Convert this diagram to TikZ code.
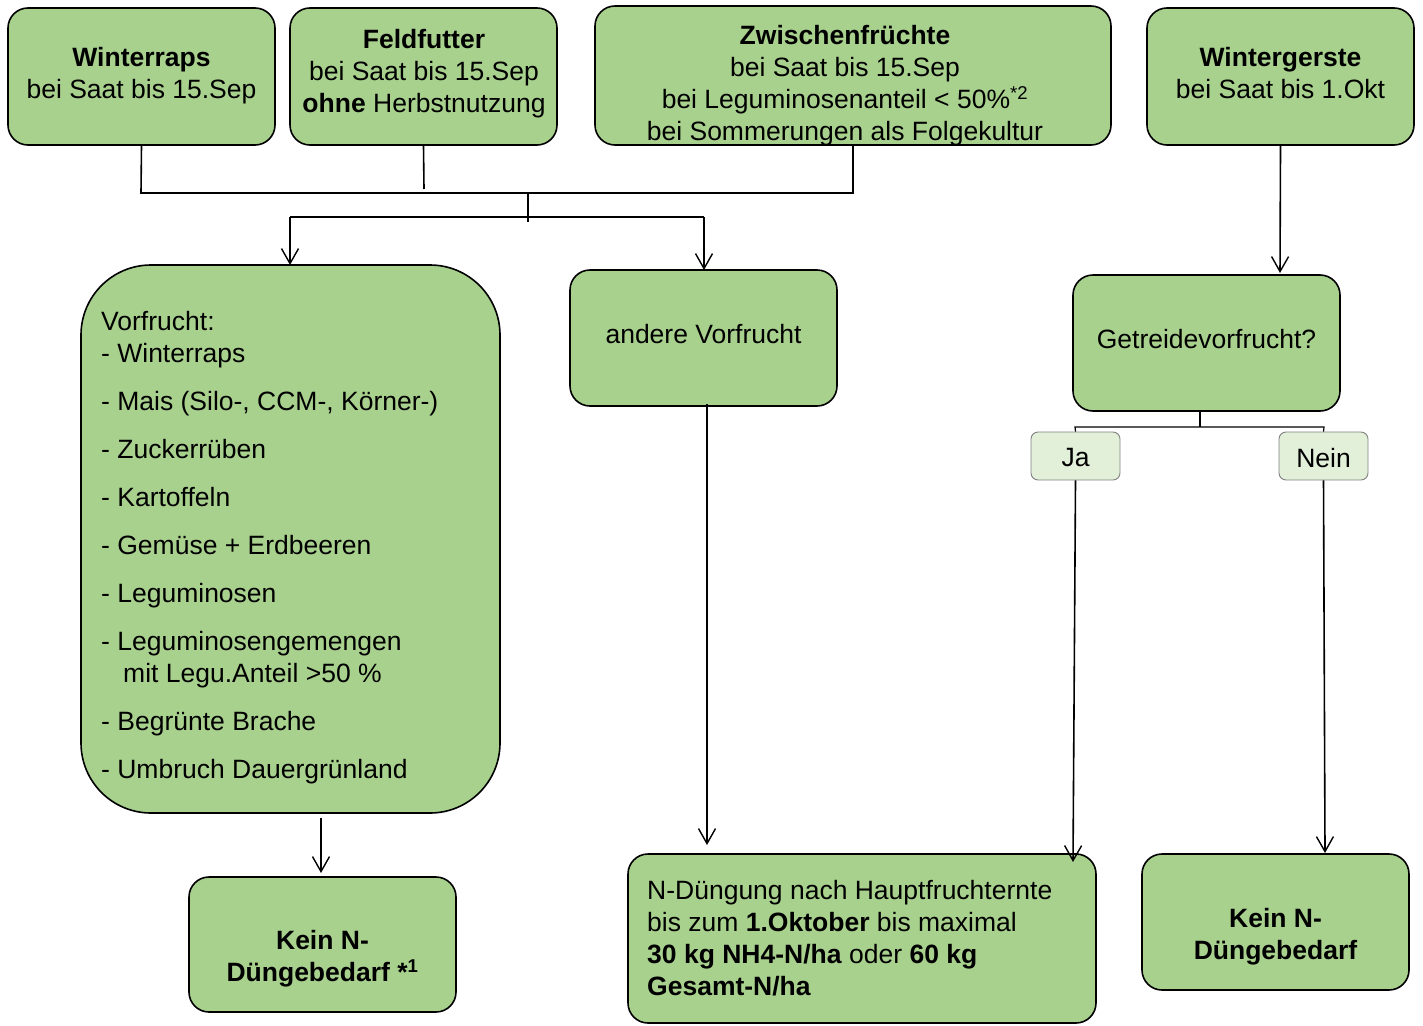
\documentclass[tikz,border=0pt]{standalone}
\usepackage{fontspec}
\setmainfont{Liberation Sans}
\usetikzlibrary{arrows.meta}
\definecolor{boxgreen}{HTML}{A9D18E}
\definecolor{palegreen}{HTML}{E2EFD9}
\definecolor{palegray}{HTML}{808080}
\begin{document}
\begin{tikzpicture}[x=1pt,y=-1pt,
  box/.style={draw=black, line width=1.6pt, fill=boxgreen, rounded corners=20pt, inner sep=0pt},
  pale/.style={draw=palegray, line width=0.9pt, fill=palegreen, rounded corners=7pt, inner sep=0pt,
    minimum width=89pt, minimum height=48pt},
  txt/.style={font=\fontsize{26.5}{32}\selectfont, align=center, inner sep=0pt},
  conn/.style={draw=black, line width=1.6pt},
  arr/.style={conn, -{Straight Barb[length=15pt,width=17pt,line width=1.4pt]}}
]
\useasboundingbox (0,0) rectangle (1423,1025);

% top boxes
\node[box, minimum width=267pt, minimum height=137pt] (wr) at (141.5,76.5) {};
\node[txt] (wrt) at (141.5,76) {\textbf{Winterraps}\\bei Saat bis 15.Sep};
\node[box, minimum width=267pt, minimum height=137pt] (ff) at (423.5,76.5) {};
\node[txt] (fft) at (424,74) {\textbf{Feldfutter}\\bei Saat bis 15.Sep\\\textbf{ohne} Herbstnutzung};
\node[box, minimum width=516pt, minimum height=139pt] (zf) at (853,75.5) {};
\node[txt] (zft) at (845,86) {\textbf{Zwischenfrüchte}\\bei Saat bis 15.Sep\\bei Leguminosenanteil < 50\%\textsuperscript{*2}\\bei Sommerungen als Folgekultur};
\node[box, minimum width=267pt, minimum height=137pt] (wg) at (1280.5,76.5) {};
\node[txt] (wgt) at (1280.5,73) {\textbf{Wintergerste}\\bei Saat bis 1.Okt};

% middle boxes
\node[box, rounded corners=70pt, minimum width=419pt, minimum height=548pt] (vf) at (290.5,539) {};
\node[txt, align=left, anchor=north west] (vft) at (101,311) {Vorfrucht:\\
- Winterraps\\[16pt]
- Mais (Silo-, CCM-, Körner-)\\[16pt]
- Zuckerrüben\\[16pt]
- Kartoffeln\\[16pt]
- Gemüse + Erdbeeren\\[16pt]
- Leguminosen\\[16pt]
- Leguminosengemengen\\
\hspace{22pt}mit Legu.Anteil >50 \%\\[16pt]
- Begrünte Brache\\[16pt]
- Umbruch Dauergrünland};
\node[box, minimum width=267pt, minimum height=136pt] (av) at (703.5,338) {};
\node[txt] (avt) at (703.5,334) {andere Vorfrucht};
\node[box, minimum width=267pt, minimum height=136pt] (gv) at (1206.5,343) {};
\node[txt] (gvt) at (1206.5,339) {Getreidevorfrucht?};
\node[pale] (ja) at (1075.5,456) {};
\node[txt] (jat) at (1075.5,458) {Ja};
\node[pale] (nein) at (1323.5,456) {};
\node[txt] (neint) at (1323.5,458) {Nein};

% bottom boxes
\node[box, minimum width=267pt, minimum height=135pt] (kn1) at (322.5,944.5) {};
\node[txt] (kn1t) at (322.5,959) {\textbf{Kein N-}\\\textbf{Düngebedarf *\textsuperscript{1}}};
\node[box, minimum width=468pt, minimum height=169pt] (nd) at (862,938.5) {};
\node[txt, align=left, anchor=north west] (ndt) at (647,880) {N-Düngung nach Hauptfruchternte\\
bis zum \textbf{1.Oktober} bis maximal\\
\textbf{30 kg NH4-N/ha} oder \textbf{60 kg}\\
\textbf{Gesamt-N/ha}};
\node[box, minimum width=267pt, minimum height=136pt] (kn2) at (1275.5,922) {};
\node[txt] (kn2t) at (1275.5,937) {\textbf{Kein N-}\\\textbf{Düngebedarf}};

% connector coordinates
\coordinate (j1) at (141,193);
\coordinate (hubb) at (528,222);
\coordinate (hub) at (528,193);
\coordinate (ffe) at (424,189);
\coordinate (splitL) at (290,217);
\coordinate (splitR) at (704,217);
\coordinate (vfe) at (290,265);
\coordinate (ave) at (704,270);
\coordinate (wge) at (1280,273);
\coordinate (gvs) at (1200,411);
\coordinate (gvj) at (1200,427);
\coordinate (jal) at (1075,427);
\coordinate (ner) at (1324,427);
\coordinate (jaEnd) at (1073,862);
\coordinate (neinEnd) at (1325,853);
\coordinate (avs) at (707,404);
\coordinate (avEnd) at (707,845);
\coordinate (vfs) at (321,818);
\coordinate (vfEnd) at (321,873);

\draw[conn] (wr.south) -- (j1) -| (zf.south);
\draw[conn] (ff.south) -- (ffe);
\draw[conn] (hub) -- (hubb);
\draw[conn] (splitL) -- (splitR);
\draw[arr] (splitL) -- (vfe);
\draw[arr] (splitR) -- (ave);
\draw[arr] (wg.south) -- (wge);
\draw[conn] (gvs) -- (gvj);
\draw[conn, line width=1.2pt] (ja.north) -- (jal) -- (ner) -- (nein.north);
\draw[arr] (ja.south) -- (jaEnd);
\draw[arr] (nein.south) -- (neinEnd);
\draw[arr] (avs) -- (avEnd);
\draw[arr] (vfs) -- (vfEnd);
\end{tikzpicture}
\end{document}
